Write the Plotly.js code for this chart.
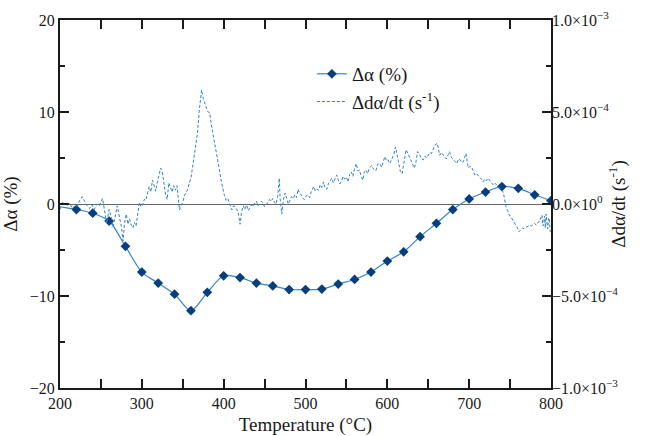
<!DOCTYPE html>
<html>
<head>
<meta charset="utf-8">
<script src="https://cdn.plot.ly/plotly-3.0.1.min.js"></script>
<style>html,body{margin:0;padding:0;background:#fff;}#chart{width:649px;height:436px;}</style>
</head>
<body>
<div id="chart"></div>
<script>
// Δα (%) at the marked temperatures (every 20 °C)
const alphaT = [220,240,260,280,300,320,340,360,380,400,420,440,460,480,500,520,540,560,580,600,
                620,640,660,680,700,720,740,760,780,800];
const alphaV = [-0.6,-1.0,-1.85,-4.6,-7.4,-8.6,-9.8,-11.6,-9.6,-7.8,-8.0,-8.6,-8.9,-9.3,-9.3,-9.25,-8.7,-8.2,-7.4,-6.2,
                -5.2,-3.55,-2.1,-0.6,0.55,1.3,1.9,1.7,1.0,0.36];
// Δα (%) start of the curve, before the first marker
const alphaStartT = [200,210,220];
const alphaStartV = [-0.3,-0.45,-0.6];

// Δdα/dt, in units of 1e-4 s^-1
const rateT = [200,203,206,209,212,215,218,221,224,227,230,233,236,239,242,245,248,252,255,257,
  260,263,265,268,270,273,275,277,279,281,283,285,287,289,291,293,295,297,299,301,
  303,305,307,309,311,313,315,317,319,321,323,325,327,329,331,333,335,337,339,341,
  343,345,346,348,350,352,354,356,358,360,362,364,366,368,370,371,373,375,377,379,
  381,383,385,387,389,391,393,395,397,399,401,403,405,407,409,410,412,414,416,418,
  420,422,424,426,428,430,432,434,436,438,440,442,444,446,448,450,452,454,456,458,
  460,462,464,466,468,469,471,473,475,477,479,481,483,485,487,489,491,493,495,497,
  499,501,503,505,507,510,512,514,516,518,520,522,524,526,528,530,532,534,536,538,
  540,542,544,546,548,550,552,554,556,558,560,562,564,566,568,570,572,574,576,578,
  581,583,586,588,591,593,595,597,599,601,603,606,608,610,612,614,616,618,620,623,
  625,628,630,633,635,637,640,642,644,646,648,650,652,654,656,658,661,663,664,666,
  668,670,672,674,676,678,681,683,685,687,689,691,693,695,696,698,699,701,703,705,
  707,709,711,713,715,717,719,721,723,725,727,729,731,733,735,737,739,741,743,745,
  747,749,751,753,755,757,759,761,763,765,767,770,772,774,776,778,780,782,784,786,
  788,789,790,791,792,793,794,795,796,797,798,799,800];
const rateV = [-0.3,0.125,0.0,-0.1,0.05,-0.25,-0.1,-0.15,0.2,0.4,0.15,-0.1,-0.25,-0.05,-0.3,0.0,-0.1,0.3,-0.5,-1.05,
  -0.3,-0.75,-1.25,-0.45,-0.1,-0.8,-1.2,-2.0,-1.0,-0.55,-1.1,-0.8,-1.15,-1.3,-1.0,-1.2,-0.5,0.1,-0.15,-0.05,
  0.25,0.2,0.6,0.95,0.65,1.3,1.0,0.7,1.2,1.6,1.95,1.75,0.95,0.5,0.25,1.15,0.9,0.65,1.0,0.75,
  1.0,0.3,-0.325,-0.1,0.1,0.45,0.65,0.8,1.15,1.4,2.0,2.6,3.25,3.85,5.0,5.5,6.2,5.75,5.45,5.2,
  5.0,4.95,4.3,3.8,3.45,3.0,2.5,1.8,1.25,0.8,0.45,0.2,0.3,0.05,-0.15,-0.325,-0.1,-0.15,-0.3,-0.5,
  -1.1,-0.4,-0.1,-0.3,-0.05,-0.35,-0.2,-0.05,-0.15,0.05,0.15,-0.1,0.0,0.15,0.05,-0.15,0.0,0.05,0.25,0.15,
  0.3,0.1,0.0,0.4,1.4,0.3,-0.55,0.25,0.6,0.3,0.0,0.2,0.4,0.3,0.5,0.35,0.8,0.55,0.5,0.3,
  0.25,0.45,0.5,0.35,0.65,0.95,0.7,0.8,0.75,1.05,0.9,1.2,0.85,0.8,1.1,1.25,1.4,1.15,1.35,1.575,
  1.3,1.1,1.25,1.5,1.35,1.45,1.2,1.6,1.75,1.5,1.95,2.2,1.8,1.85,1.5,1.3,1.75,1.85,1.65,1.95,
  2.1,1.9,1.8,2.15,2.2,2.0,2.3,2.575,2.35,2.4,2.2,2.45,2.7,3.1,2.6,2.1,1.75,1.65,2.2,2.95,
  2.75,2.45,2.3,1.95,2.3,2.85,2.65,2.45,2.4,2.6,2.5,2.65,2.8,2.75,3.0,3.2,3.3,2.95,2.65,2.8,
  2.7,2.6,2.45,2.65,2.85,2.55,2.4,2.3,2.2,2.45,2.4,2.25,2.3,2.6,2.75,2.2,1.95,2.05,2.0,1.8,
  1.575,1.65,1.55,1.5,1.35,1.2,1.35,1.25,1.4,1.3,1.15,1.05,1.15,1.05,0.95,0.85,0.8,0.7,0.35,-0.15,
  -0.35,-0.6,-0.7,-0.875,-1.0,-1.15,-1.3,-1.5,-1.4,-1.3,-1.35,-1.25,-1.2,-1.15,-1.2,-1.1,-1.05,-1.15,-1.0,-0.95,
  -0.7,-0.6,-1.2,-1.1,-0.65,-1.3,-0.55,-1.15,-1.35,-0.8,-0.75,-1.5,-1.45];

const yTickVals = [-1e-3,-5e-4,0,5e-4,1e-3];
const yTickText = ['\u22121.0\u00d710<sup>\u22123</sup>','\u22125.0\u00d710<sup>\u22124</sup>','0.0\u00d710<sup>0</sup>',
                   '5.0\u00d710<sup>\u22124</sup>','1.0\u00d710<sup>\u22123</sup>'];

const lineBlue = '#3483c7';
const markBlue = '#073f7e';
const font = 'Liberation Serif, Times New Roman, serif';
const ink = '#1a1a1a';

const traces = [
  {
    x: alphaStartT, y: alphaStartV, type: 'scatter', mode: 'lines', showlegend: false,
    line: {color: lineBlue, width: 1.2, shape: 'spline'},
    xaxis: 'x', yaxis: 'y'
  },
  {
    x: alphaT, y: alphaV, type: 'scatter', mode: 'lines+markers',
    name: '\u0394\u03b1 (%)',
    line: {color: lineBlue, width: 1.2, shape: 'spline', smoothing: 0.8},
    marker: {symbol: 'diamond', size: 7.5, color: markBlue},
    xaxis: 'x', yaxis: 'y'
  },
  {
    x: rateT, y: rateV.map(v => v * 1e-4), type: 'scatter', mode: 'lines',
    name: '\u0394d\u03b1/dt (s<sup>-1</sup>)',
    line: {color: lineBlue, width: 1, dash: '3px,2px'},
    xaxis: 'x', yaxis: 'y2'
  }
];

const layout = {
  width: 649, height: 436,
  margin: {l: 60, r: 98, t: 20, b: 48},
  font: {family: font, color: ink},
  showlegend: true,
  legend: {x: 0.513, y: 0.905, xanchor: 'left', yanchor: 'top', bgcolor: 'rgba(0,0,0,0)',
           font: {family: font, size: 19, color: ink}},
  xaxis: {
    range: [200, 800], dtick: 100,
    showgrid: false, zeroline: false,
    showline: true, linecolor: ink, linewidth: 2, mirror: 'allticks',
    ticks: 'inside', ticklen: 9, tickwidth: 2, tickcolor: ink,
    tickfont: {family: font, size: 16, color: ink},
    minor: {dtick: 50, ticklen: 5, tickwidth: 2, tickcolor: ink, ticks: 'inside'},
    title: {text: 'Temperature (\u00b0C)', font: {family: font, size: 19, color: ink}}
  },
  yaxis: {
    range: [-20, 20], dtick: 10,
    showgrid: false,
    zeroline: true, zerolinecolor: '#666', zerolinewidth: 1,
    showline: true, linecolor: ink, linewidth: 2, mirror: 'allticks',
    ticks: 'inside', ticklen: 9, tickwidth: 2, tickcolor: ink,
    tickfont: {family: font, size: 16, color: ink},
    minor: {dtick: 5, ticklen: 5, tickwidth: 2, tickcolor: ink, ticks: 'inside'},
    title: {text: '\u0394\u03b1 (%)', font: {family: font, size: 19, color: ink}}
  },
  yaxis2: {
    overlaying: 'y', side: 'right', range: [-1e-3, 1e-3],
    tickmode: 'array', tickvals: yTickVals, ticktext: yTickText,
    showgrid: false, zeroline: false, showline: false, ticks: '',
    tickfont: {family: font, size: 16, color: ink},
    title: {text: '\u0394d\u03b1/dt (s<sup>-1</sup>)', font: {family: font, size: 19, color: ink}}
  }
};

Plotly.newPlot('chart', traces, layout, {displayModeBar: false});
</script>
</body>
</html>
